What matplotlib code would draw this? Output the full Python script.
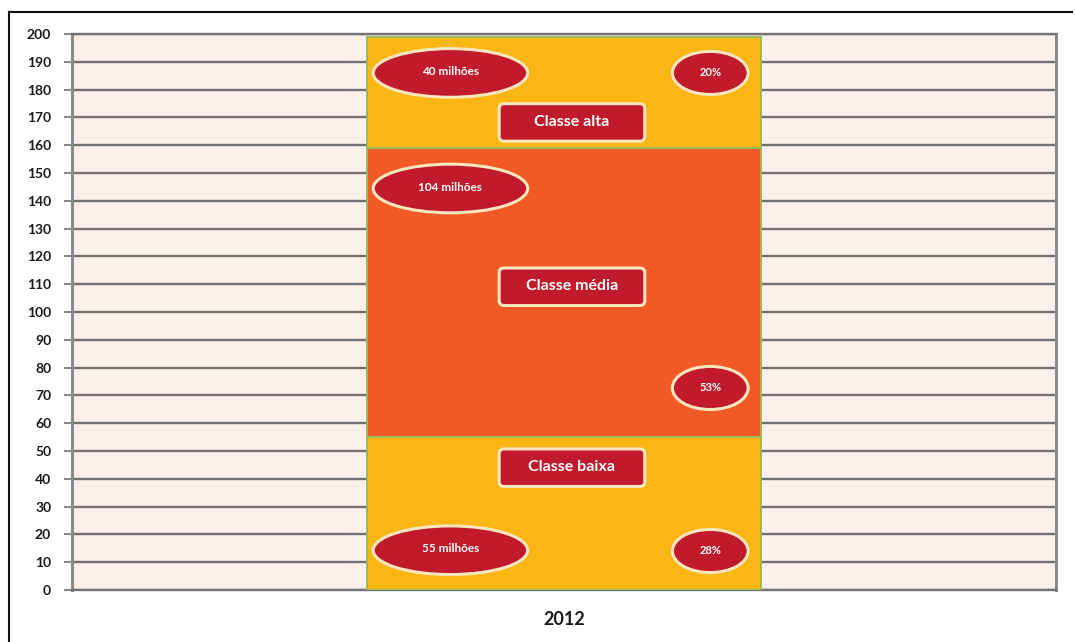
import matplotlib
matplotlib.use("Agg")
import matplotlib.pyplot as plt
from matplotlib.patches import Ellipse, FancyBboxPatch
from matplotlib.lines import Line2D

# Population by social class in 2012 (millions) and share of total
categories = ["2012"]
classes = ["Classe baixa", "Classe média", "Classe alta"]
population = [55, 104, 40]
population_labels = ["55 milhões", "104 milhões", "40 milhões"]
shares = ["28%", "53%", "20%"]
y_ticks = list(range(0, 201, 10))

seg_colors = ["#fab613", "#f15a24", "#fab613"]
badge_fill = "#c01a2c"
badge_edge = "#fde6be"
fam = ["Lato", "DejaVu Sans"]

# Placement of labels inside each segment, as fraction of segment height
count_frac = [0.26, 0.86, 0.675]
share_frac = [0.255, 0.17, 0.675]
name_frac = [0.80, 0.52, 0.23]

fig = plt.figure(figsize=(10.75, 6.42), dpi=100)
ax = fig.add_axes([0.067, 0.081, 0.9155, 0.866])
ax.set_facecolor("#fcf0ea")

bar_w = 0.4
x0 = 0
bottom = 0
for i, val in enumerate(population):
    ax.bar(x0, val, width=bar_w, bottom=bottom, color=seg_colors[i],
           edgecolor="#9bbb59", linewidth=1.4, zorder=3)
    left = x0 - bar_w / 2
    right = x0 + bar_w / 2
    # count badge (left), share badge (right), class name box (center)
    yc = bottom + count_frac[i] * val
    ax.add_patch(Ellipse((left + 0.0845, yc), 0.157, 17.5, facecolor=badge_fill,
                         edgecolor=badge_edge, linewidth=2.2, zorder=4))
    ax.text(left + 0.0845, yc + 0.5, population_labels[i], color="white",
            fontsize=8.5, fontweight="bold", family=fam, ha="center",
            va="center", zorder=5)
    ys = bottom + share_frac[i] * val
    ax.add_patch(Ellipse((right - 0.0515, ys), 0.077, 15.5, facecolor=badge_fill,
                         edgecolor=badge_edge, linewidth=2.2, zorder=4))
    ax.text(right - 0.0515, ys + 0.3, shares[i], color="white", fontsize=8,
            fontweight="bold", family=fam, ha="center", va="center", zorder=5)
    yn = bottom + name_frac[i] * val
    bw, bh = 0.148, 13.5
    ax.add_patch(FancyBboxPatch((x0 + 0.008 - bw / 2, yn - bh / 2), bw, bh,
                                boxstyle="round,pad=0,rounding_size=0.005",
                                mutation_aspect=354, facecolor=badge_fill,
                                edgecolor=badge_edge, linewidth=2.2, zorder=4))
    ax.text(x0 + 0.008, yn + 0.3, classes[i], color="white", fontsize=11.5,
            fontweight="bold", family=fam, ha="center", va="center", zorder=5)
    bottom += val

ax.set_xlim(-0.5, 0.5)
ax.set_ylim(0, 200)
ax.set_yticks(y_ticks)
ax.set_yticklabels([str(t) for t in y_ticks], fontsize=10, fontweight="bold",
                   color="#1a1a1a", family=fam)
ax.set_xticks([0])
ax.set_xticklabels(categories, fontsize=13, fontweight="bold", color="#1a1a1a",
                   family=fam)
ax.tick_params(axis="x", length=0, pad=15)
ax.tick_params(axis="y", length=6, width=1.5, color="#8a8a8a", pad=9)

ax.yaxis.grid(True, color="#737373", linewidth=1.7, zorder=1)
ax.set_axisbelow(True)
for side in ["left", "right"]:
    ax.spines[side].set_color("#8a8a8a")
    ax.spines[side].set_linewidth(2.2)
for side in ["top", "bottom"]:
    ax.spines[side].set_color("#737373")
    ax.spines[side].set_linewidth(1.7)

# chart frame
fig.add_artist(Line2D([9 / 1075, 1072 / 1075], [1 - 12 / 642, 1 - 12 / 642],
                      transform=fig.transFigure, color="#111111", linewidth=1.5))
fig.add_artist(Line2D([9 / 1075, 9 / 1075], [0, 1 - 12 / 642],
                      transform=fig.transFigure, color="#111111", linewidth=1.5))

fig.savefig("out.png", dpi=100, facecolor="white")
